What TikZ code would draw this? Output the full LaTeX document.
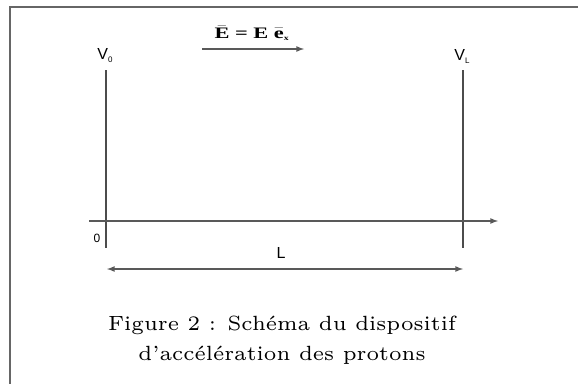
\documentclass[tikz,border=0pt]{standalone}
\usepackage{fontspec}
\newfontfamily\labelfont{Liberation Sans}
\newfontfamily\champfont{Liberation Serif}
\usepackage{amsmath}
\usetikzlibrary{arrows}
\tikzset{
    plate/.style = {draw = black!70, line width = 1.6pt},
    axe/.style = {draw = black!65, line width = 1.6pt},
    lab/.style = {font = \labelfont\fontsize{16}{18}\selectfont, inner sep = 0pt}
}
\begin{document}
\begin{tikzpicture}[x=1pt, y=-1pt]
                            \useasboundingbox (0,0) rectangle (578,383);
                            \draw [black!60, line width = 2pt] (10,400) -- (10,7) -- (600,7);
                            \coordinate (p0h) at (106,70); \coordinate (p0b) at (106,248);
                            \coordinate (pLh) at (463,70); \coordinate (pLb) at (463,248);
                            \draw [plate] (p0h) -- (p0b);
                            \draw [plate] (pLh) -- (pLb);
                            \node [lab] (v0) at (105,56) {V\raisebox{-3pt}{\fontsize{8}{9}\selectfont 0}};
                            \node [lab] (vL) at (462,56) {V\raisebox{-3pt}{\fontsize{8}{9}\selectfont L}};
                            \coordinate (xa) at (89,221); \coordinate (xb) at (498,221);
                            \draw [axe, -latex] (xa) -- (xb);
                            \node [lab, font = \labelfont\fontsize{12}{14}\selectfont] (zero) at (97,238) {0};
                            \coordinate (la) at (107,269); \coordinate (lb) at (463,269);
                            \draw [axe, latex-latex] (la) -- (lb);
                            \node [lab] (long) at (281,253) {L};
                            \coordinate (ea) at (202,49); \coordinate (eb) at (304,49);
                            \draw [axe, -latex] (ea) -- (eb);
                            \node [inner sep = 0pt] (champ) at (252,33) {\scalebox{1.4}[1]{\champfont\bfseries\fontsize{16}{18}\selectfont
                                $\bar{\text{E}}$ = E $\bar{\text{e}}_{\text{\fontsize{7}{8}\selectfont x}}$}};
                            \node [align = center, inner sep = 0pt] (titre) at (282,339) {\scalebox{3.43}{\fontsize{6}{8.75}\selectfont
                                \begin{tabular}{@{}c@{}}Figure 2 : Schéma du dispositif\\d’accélération des protons\end{tabular}}};
                        \end{tikzpicture}
\end{document}
